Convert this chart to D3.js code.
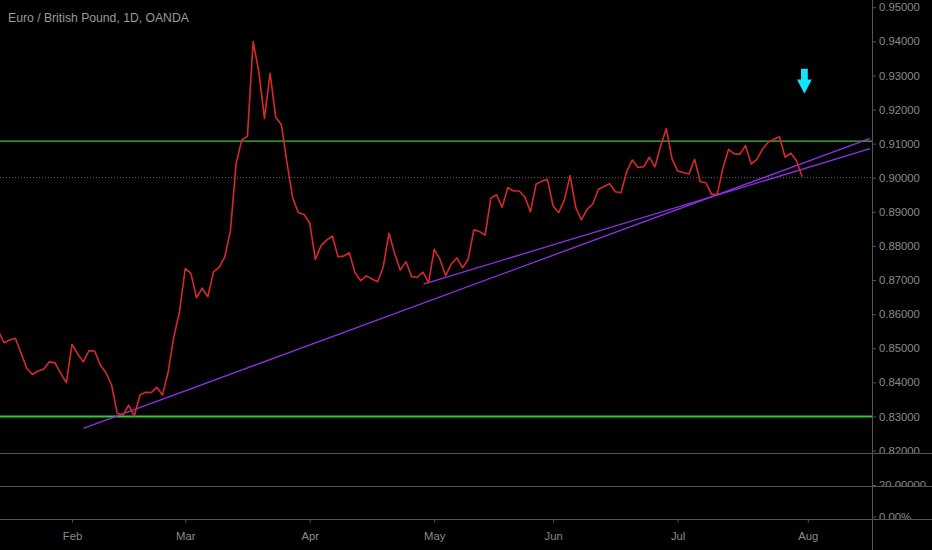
<!DOCTYPE html>
<html><head><meta charset="utf-8">
<script src="https://cdn.jsdelivr.net/npm/d3@7"></script>
<style>
html,body{margin:0;padding:0;background:#000;}
svg{display:block;}
</style></head>
<body>
<svg id="chart" width="932" height="550"></svg>
<script>
// ---- data (daily closes, EUR/GBP, trading days from Jan 15 to Jul 31) ----
const closes = [
0.8550,0.8516,0.8524,0.8529,0.8486,0.8441,0.8423,0.8433,0.8438,0.8460,0.8457,0.8426,0.8399,
0.8511,0.8483,0.8460,0.8493,0.8492,0.8451,0.8428,0.8392,0.8309,0.8304,0.8333,0.8301,0.8363,0.8371,0.8370,0.8385,0.8363,0.8431,0.8534,0.8607,
0.8733,0.8720,0.8648,0.8676,0.8651,0.8724,0.8737,0.8768,0.8845,0.9042,0.9111,0.9122,0.9399,0.9311,0.9174,0.9306,0.9177,0.9155,0.9042,0.8940,0.8897,0.8892,
0.8867,0.8760,0.8801,0.8817,0.8829,0.8768,0.8770,0.8780,0.8721,0.8698,0.8712,0.8703,0.8695,0.8739,0.8837,0.8778,0.8729,0.8754,0.8710,0.8708,0.8723,0.8692,
0.8790,0.8761,0.8713,0.8746,0.8765,0.8736,0.8761,0.8847,0.8842,0.8832,0.8940,0.8950,0.8913,0.8971,0.8961,0.8961,0.8944,0.8900,0.8981,0.8990,0.8995,
0.8917,0.8898,0.8935,0.9006,0.8913,0.8876,0.8907,0.8923,0.8966,0.8974,0.8982,0.8959,0.8956,0.9018,0.9052,0.9030,0.9032,0.9060,0.9032,0.9093,0.9144,0.9056,
0.9020,0.9015,0.9011,0.9054,0.8988,0.8985,0.8951,0.8951,0.9028,0.9083,0.9070,0.9069,0.9094,0.9040,0.9054,0.9084,0.9104,0.9113,0.9120,0.9060,0.9072,0.9050,0.9003
];
const monthLabels = ["Feb","Mar","Apr","May","Jun","Jul","Aug"];
const monthIndex  = [13, 33, 55, 77, 98, 120, 143];
const priceTicks = [0.95,0.94,0.93,0.92,0.91,0.90,0.89,0.88,0.87,0.86,0.85,0.84,0.83,0.82];
const hLevels = [0.9107, 0.8300];          // horizontal support / resistance
const lastPrice = 0.9000;                    // dotted price line
// trend lines: [startIndex, startPrice, endIndex, endPrice]
const trendA = [15.0, 0.8265, 154.0, 0.9115];
const trendB = [75.1, 0.8688, 154.0, 0.9085];
const arrowAt = [142.4, 0.9246];             // arrow marker (index, price of tip)
const title = "Euro / British Pound, 1D, OANDA";

// ---- layout ----
const W = 932, H = 550, axisX = 872;
const pane1Bottom = 453, pane2Bottom = 486, pane3Bottom = 519;
const svg = d3.select("#chart");
svg.append("rect").attr("width",W).attr("height",H).attr("fill","#000");

const x = d3.scaleLinear().domain([0,154]).range([-1.58, -1.58 + 5.66*154]);
const y = d3.scaleLinear().domain([0.81927, 0.95211]).range([pane1Bottom, 0]);

const defs = svg.append("defs");
defs.append("clipPath").attr("id","plot").append("rect").attr("x",0).attr("y",0).attr("width",axisX).attr("height",pane1Bottom);
defs.append("clipPath").attr("id","p1lab").append("rect").attr("x",axisX).attr("y",0).attr("width",W-axisX).attr("height",pane1Bottom);
defs.append("clipPath").attr("id","p2lab").append("rect").attr("x",axisX).attr("y",pane1Bottom).attr("width",W-axisX).attr("height",pane2Bottom-pane1Bottom);
defs.append("clipPath").attr("id","p3lab").append("rect").attr("x",axisX).attr("y",pane2Bottom).attr("width",W-axisX).attr("height",pane3Bottom-pane2Bottom);

const plot = svg.append("g").attr("clip-path","url(#plot)");

// dotted last price line
plot.append("line").attr("x1",0).attr("x2",axisX).attr("y1",y(lastPrice)).attr("y2",y(lastPrice))
  .attr("stroke","#6a6a6a").attr("stroke-width",1).attr("stroke-dasharray","1,2");

// horizontal levels
plot.selectAll("line.lvl").data(hLevels).enter().append("line").attr("class","lvl")
  .attr("x1",0).attr("x2",axisX).attr("y1",d=>y(d)).attr("y2",d=>y(d))
  .attr("stroke",(d,i)=> i===0 ? "#3cbf3c" : "#2ecc2e").attr("stroke-width",(d,i)=> i===0 ? 1.3 : 2);

// trend lines
plot.selectAll("line.trend").data([trendA, trendB]).enter().append("line").attr("class","trend")
  .attr("x1",d=>x(d[0])).attr("y1",d=>y(d[1])).attr("x2",d=>x(d[2])).attr("y2",d=>y(d[3]))
  .attr("stroke","#9030e8").attr("stroke-width",1.3);

// price line
const line = d3.line().x((d,i)=>x(i)).y(d=>y(d));
plot.append("path").datum(closes).attr("d",line).attr("fill","none")
  .attr("stroke","#d42a2a").attr("stroke-width",1.6).attr("stroke-linejoin","round");

// arrow marker
const ax = x(arrowAt[0]), ay = y(arrowAt[1]);
plot.append("path")
  .attr("d",`M${ax-3.4},${ay-25} L${ax+3.4},${ay-25} L${ax+3.4},${ay-14.4} L${ax+7.4},${ay-14.4} L${ax},${ay} L${ax-7.4},${ay-14.4} L${ax-3.4},${ay-14.4} Z`)
  .attr("fill","#10e6f8");

// title
svg.append("text").attr("x",8).attr("y",22).text(title)
  .attr("font-family","Liberation Sans, Arial, sans-serif").attr("font-size",12.2).attr("fill","#9a9a9a");

// separators
svg.selectAll("line.sep").data([pane1Bottom,pane2Bottom,pane3Bottom]).enter().append("line").attr("class","sep")
  .attr("x1",0).attr("x2",W).attr("y1",d=>d+0.5).attr("y2",d=>d+0.5).attr("stroke","#555").attr("stroke-width",1);
// vertical price axis line
svg.append("line").attr("x1",axisX+0.5).attr("x2",axisX+0.5).attr("y1",0).attr("y2",H).attr("stroke","#555");

function styleAxis(g){
  g.select(".domain").remove();
  g.selectAll("line").attr("stroke","#555");
  g.selectAll("text").attr("fill","#8a8a8a").attr("font-family","Liberation Sans, Arial, sans-serif").attr("font-size",11.3);
}

// right price axis (pane 1)
const yAxis = d3.axisRight(y).tickValues(priceTicks).tickFormat(d3.format(".5f")).tickSize(4).tickPadding(3);
svg.append("g").attr("clip-path","url(#p1lab)").append("g").attr("transform",`translate(${axisX},0)`).call(yAxis).call(styleAxis);

// pane 2 & 3 labels
const y2 = d3.scaleLinear().domain([0,20]).range([pane2Bottom, 485]);
const y3 = d3.scaleLinear().domain([0,1]).range([516.5, pane2Bottom]);
function paneAxis(scale, vals, fmt, clip){
  svg.append("g").attr("clip-path",`url(#${clip})`).append("g").attr("transform",`translate(${axisX},0)`)
    .call(d3.axisRight(scale).tickValues(vals).tickFormat(fmt).tickSize(4).tickPadding(3)).call(styleAxis);
}
paneAxis(y2,[20],d3.format(".5f"),"p2lab");
paneAxis(y3,[0],d=>d3.format(".2f")(d)+"%","p3lab");

// bottom time axis
const xAxis = d3.axisBottom(x).tickValues(monthIndex).tickFormat((d,i)=>monthLabels[i]).tickSize(3).tickPadding(9);
svg.append("g").attr("transform",`translate(0,${pane3Bottom+0.5})`).call(xAxis).call(styleAxis);
</script>
</body></html>
